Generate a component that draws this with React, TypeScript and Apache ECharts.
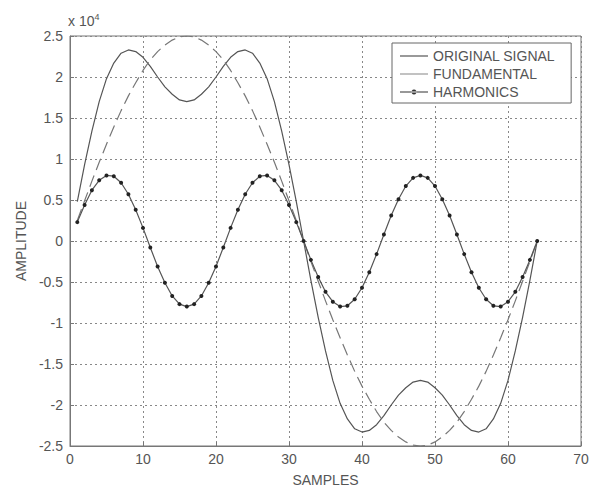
import React, { useEffect, useRef } from "react";
import * as echarts from "echarts";

const samples: number[] = [
  1, 2, 3, 4, 5, 6, 7, 8, 9, 10, 11, 12, 13, 14, 15, 16,
  17, 18, 19, 20, 21, 22, 23, 24, 25, 26, 27, 28, 29, 30, 31, 32,
  33, 34, 35, 36, 37, 38, 39, 40, 41, 42, 43, 44, 45, 46, 47, 48,
  49, 50, 51, 52, 53, 54, 55, 56, 57, 58, 59, 60, 61, 62, 63, 64,
];

// values in units of 10^4
const originalSignal: number[] = [
  0.48, 0.93, 1.34, 1.70, 1.98, 2.17, 2.29, 2.33, 2.31, 2.24, 2.13, 2.00, 1.88, 1.79, 1.72, 1.70,
  1.72, 1.79, 1.88, 2.00, 2.13, 2.24, 2.31, 2.33, 2.29, 2.17, 1.98, 1.70, 1.34, 0.93, 0.48, 0.0,
  -0.48, -0.93, -1.34, -1.70, -1.98, -2.17, -2.29, -2.33, -2.31, -2.24, -2.13, -2.00, -1.88, -1.79, -1.72, -1.70,
  -1.72, -1.79, -1.88, -2.00, -2.13, -2.24, -2.31, -2.33, -2.29, -2.17, -1.98, -1.70, -1.34, -0.93, -0.48, 0.0,
];

const fundamental: number[] = [
  0.25, 0.49, 0.73, 0.96, 1.18, 1.39, 1.59, 1.77, 1.93, 2.08, 2.21, 2.31, 2.39, 2.45, 2.49, 2.5,
  2.49, 2.45, 2.39, 2.31, 2.21, 2.08, 1.93, 1.77, 1.59, 1.39, 1.18, 0.96, 0.73, 0.49, 0.25, 0.0,
  -0.25, -0.49, -0.73, -0.96, -1.18, -1.39, -1.59, -1.77, -1.93, -2.08, -2.21, -2.31, -2.39, -2.45, -2.49, -2.5,
  -2.49, -2.45, -2.39, -2.31, -2.21, -2.08, -1.93, -1.77, -1.59, -1.39, -1.18, -0.96, -0.73, -0.49, -0.25, 0.0,
];

const harmonics: number[] = [
  0.23, 0.44, 0.62, 0.74, 0.80, 0.79, 0.71, 0.57, 0.38, 0.16, -0.08, -0.31, -0.51, -0.67, -0.77, -0.80,
  -0.77, -0.67, -0.51, -0.31, -0.08, 0.16, 0.38, 0.57, 0.71, 0.79, 0.80, 0.74, 0.62, 0.44, 0.23, 0.0,
  -0.23, -0.44, -0.62, -0.74, -0.80, -0.79, -0.71, -0.57, -0.38, -0.16, 0.08, 0.31, 0.51, 0.67, 0.77, 0.80,
  0.77, 0.67, 0.51, 0.31, 0.08, -0.16, -0.38, -0.57, -0.71, -0.79, -0.80, -0.74, -0.62, -0.44, -0.23, 0.0,
];

const seriesNames = ["ORIGINAL SIGNAL", "FUNDAMENTAL", "HARMONICS"];
const xTitle = "SAMPLES";
const yTitle = "AMPLITUDE";

const FONT = "'Liberation Sans', Arial, sans-serif";
const TEXT = "#555";

export default function App() {
  const ref = useRef<HTMLDivElement>(null);
  useEffect(() => {
    if (!ref.current) return;
    const chart = echarts.init(ref.current, null, { renderer: "svg" });
    const pair = (ys: number[]) => samples.map((x, i) => [x, ys[i]]);
    const gridLine = { show: true, lineStyle: { color: "#888", type: [2, 3] as any, width: 1 } };
    chart.setOption({
      animation: false,
      backgroundColor: "#fff",
      textStyle: { fontFamily: FONT },
      grid: {
        left: 70,
        right: 27,
        top: 36,
        bottom: 47,
        show: true,
        borderColor: "#777",
        borderWidth: 1,
        backgroundColor: "transparent",
      },
      legend: {
        orient: "vertical",
        left: 392,
        top: 43,
        padding: [6, 16, 4, 8],
        itemGap: 4,
        itemWidth: 28,
        itemHeight: 8,
        borderColor: "#666",
        borderWidth: 1,
        backgroundColor: "#fff",
        textStyle: { fontFamily: FONT, fontSize: 14, color: TEXT },
        data: [
          {
            name: seriesNames[0],
            icon: "path://M0,0h28v1.2h-28z",
            itemStyle: { color: "#555" },
          },
          {
            name: seriesNames[1],
            icon: "path://M0,0h28v1.2h-28z",
            itemStyle: { color: "#999" },
          },
          {
            name: seriesNames[2],
            icon: "path://M0,2h28v1.2h-28z M14,0.1a2.5,2.5 0 1,0 0.01,0z",
            itemStyle: { color: "#333" },
          },
        ],
      },
      xAxis: {
        type: "value",
        min: 0,
        max: 70,
        interval: 10,
        name: xTitle,
        nameLocation: "middle",
        nameGap: 27,
        nameTextStyle: { fontFamily: FONT, fontSize: 14, color: TEXT },
        axisLine: { show: true, onZero: false, lineStyle: { color: "#777" } },
        axisTick: { show: true, inside: true, length: 4, lineStyle: { color: "#777" } },
        axisLabel: { fontFamily: FONT, fontSize: 14, color: TEXT, margin: 6 },
        splitLine: gridLine,
      },
      yAxis: {
        type: "value",
        min: -2.5,
        max: 2.5,
        interval: 0.5,
        name: yTitle,
        nameLocation: "middle",
        nameGap: 41,
        nameTextStyle: { fontFamily: FONT, fontSize: 14, color: TEXT },
        axisLine: { show: true, onZero: false, lineStyle: { color: "#777" } },
        axisTick: { show: true, inside: true, length: 4, lineStyle: { color: "#777" } },
        axisLabel: { fontFamily: FONT, fontSize: 14, color: TEXT, margin: 7 },
        splitLine: gridLine,
      },
      graphic: [
        {
          type: "text",
          left: 68,
          top: 12,
          style: {
            text: "x 10{s|4}",
            fontFamily: FONT,
            fontSize: 14,
            fill: TEXT,
            rich: { s: { fontSize: 9, fill: TEXT, verticalAlign: "top", padding: [0, 0, 8, 0] } },
          },
        },
      ],
      series: [
        {
          name: seriesNames[0],
          type: "line",
          data: pair(originalSignal),
          showSymbol: false,
          symbol: "none",
          lineStyle: { color: "#555", width: 1.2 },
          itemStyle: { color: "#555" },
        },
        {
          name: seriesNames[1],
          type: "line",
          data: pair(fundamental),
          showSymbol: false,
          symbol: "none",
          lineStyle: { color: "#777", width: 1.2, type: [12, 6] },
          itemStyle: { color: "#777" },
        },
        {
          name: seriesNames[2],
          type: "line",
          data: pair(harmonics),
          symbol: "circle",
          symbolSize: 4,
          lineStyle: { color: "#555", width: 1.2 },
          itemStyle: { color: "#222" },
        },
      ],
    });
    return () => chart.dispose();
  }, []);
  return <div ref={ref} style={{ width: 608, height: 493, position: "absolute", left: 0, top: 0 }} />;
}
